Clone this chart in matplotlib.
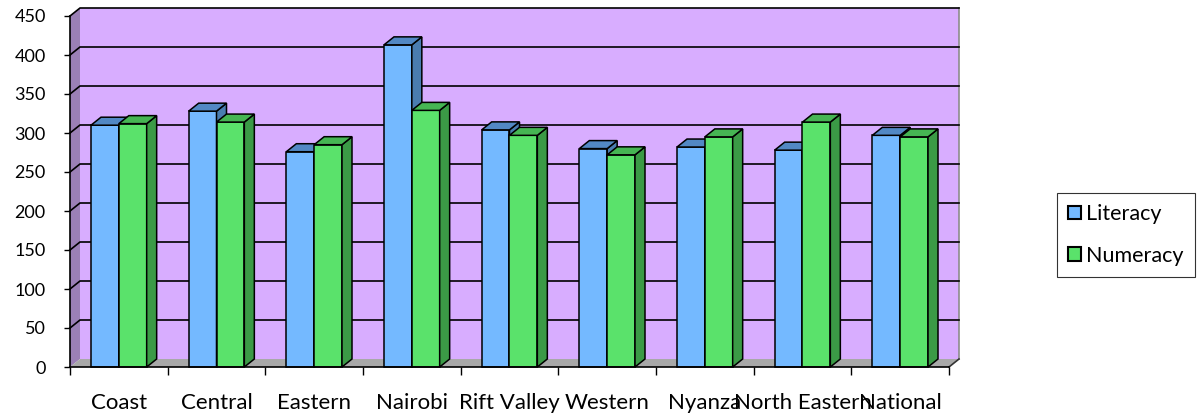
import matplotlib.pyplot as plt
from matplotlib.patches import Polygon, Patch

plt.rcParams['font.family'] = ['Lato', 'DejaVu Sans']

regions = ['Coast', 'Central', 'Eastern', 'Nairobi', 'Rift Valley', 'Western',
           'Nyanza', 'North Eastern', 'National']
literacy = [310, 328, 276, 413, 304, 280, 282, 278, 297]
numeracy = [312, 314, 285, 329, 297, 272, 295, 314, 295]
yticks = [0, 50, 100, 150, 200, 250, 300, 350, 400, 450]

W, H = 1204, 420
fig = plt.figure(figsize=(W / 100, H / 100), dpi=100)
ax_l, ax_r, ax_b, ax_t = 70, 949, 367, 16
ax = fig.add_axes([ax_l / W, 1 - ax_b / H, (ax_r - ax_l) / W, (ax_b - ax_t) / H])
n = len(regions)
ax.set_xlim(0, n)
ax.set_ylim(0, 450)

# depth offset in pixels -> data units
ddx = 10 / ((ax_r - ax_l) / n)
ddy = 8 / ((ax_b - ax_t) / 450)

def poly(pts, fc, ec='black', lw=1.1, z=1):
    p = Polygon(pts, closed=True, facecolor=fc, edgecolor=ec, linewidth=lw,
                clip_on=False, zorder=z, joinstyle='miter')
    ax.add_patch(p)

# walls and floor
top = 450
poly([(ddx, ddy), (n + ddx, ddy), (n + ddx, top + ddy), (ddx, top + ddy)], '#D8ADFF', ec='none', z=0.5)
poly([(0, 0), (ddx, ddy), (ddx, top + ddy), (0, top)], '#9B80B6', ec='none', z=0.5)
poly([(0, 0), (n, 0), (n + ddx, ddy), (ddx, ddy)], '#A8A8A8', ec='none', z=0.6)
ax.plot([n + ddx, n + ddx], [ddy, top + ddy], color='#8C8C8C', lw=1.2, clip_on=False, zorder=0.7)
ax.plot([n, n + ddx], [0, ddy], color='#333333', lw=1.2, clip_on=False, zorder=0.7)

# gridlines on the back wall
for v in yticks[1:]:
    ax.plot([0, ddx, n + ddx], [v, v + ddy, v + ddy], color='black', lw=1.2,
            clip_on=False, zorder=0.8)

def bar3d(x0, w, h, front, side, topc):
    poly([(x0, 0), (x0 + w, 0), (x0 + w, h), (x0, h)], front, z=2)
    poly([(x0 + w, 0), (x0 + w + ddx, ddy), (x0 + w + ddx, h + ddy), (x0 + w, h)], side, z=2)
    poly([(x0, h), (x0 + w, h), (x0 + w + ddx, h + ddy), (x0 + ddx, h + ddy)], topc, z=2)

bw = 0.285
for i in range(n):
    bar3d(i + 0.5 - bw, bw, literacy[i], '#74B9FF', '#4A7DB0', '#5288C4')
    bar3d(i + 0.5, bw, numeracy[i], '#5AE26B', '#3B9A46', '#46B553')

# axes styling
for s in ['top', 'right', 'left', 'bottom']:
    ax.spines[s].set_visible(False)
ax.plot([0, 0], [0, 450], color='black', lw=1.2, clip_on=False, zorder=3)
ax.plot([0, n], [0, 0], color='black', lw=1.2, clip_on=False, zorder=3)
ax.set_facecolor('none')
ax.set_yticks(yticks)
ax.set_xticks(range(n + 1))
ax.set_xticklabels([])
ax.set_xticks([i + 0.5 for i in range(n)], minor=True)
ax.set_xticklabels(regions, minor=True)
ax.tick_params(axis='y', length=4.5, width=1, pad=13, labelsize=13)
ax.tick_params(axis='x', which='major', length=6, width=1)
ax.tick_params(axis='x', which='minor', length=0, pad=19, labelsize=16)

handles = [Patch(facecolor='#74B9FF', edgecolor='black', lw=1.5, label='Literacy'),
           Patch(facecolor='#5AE26B', edgecolor='black', lw=1.5, label='Numeracy')]
leg = fig.legend(handles=handles, loc='center', bbox_to_anchor=(1126 / W, 1 - 235 / H),
                 fontsize=15.5, frameon=True, fancybox=False, edgecolor='black',
                 handlelength=0.6, handleheight=0.6, handletextpad=0.25,
                 labelspacing=1.0, borderpad=0.5)
leg.get_frame().set_linewidth(0.8)

fig.savefig('out.png', dpi=100)
